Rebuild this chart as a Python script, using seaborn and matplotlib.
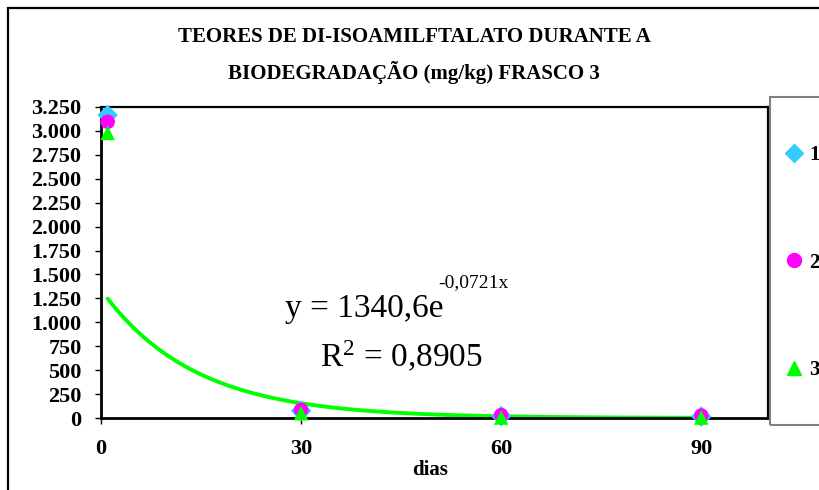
import matplotlib
matplotlib.use("Agg")
import matplotlib.pyplot as plt
from matplotlib.lines import Line2D
from matplotlib.patches import Rectangle
import numpy as np
import pandas as pd
import seaborn as sns

# data
dias = [1, 30, 60, 90]
frasco_1 = [3165, 75, 20, 15]
frasco_2 = [3095, 85, 30, 25]
frasco_3 = [2980, 50, 5, 5]
frascos = ["1", "2", "3"]

# exponential trendline shown on the chart
trend_a = 1340.6
trend_b = -0.0721
trend_r2 = 0.8905

yticks = list(range(0, 3251, 250))
xticks = [0, 30, 60, 90]

colors = {"1": "#33CCFF", "2": "#FF00FF", "3": "#00FF00"}
markers = {"1": "D", "2": "o", "3": "^"}

df = pd.DataFrame({
    "dias": dias * 3,
    "teor": frasco_1 + frasco_2 + frasco_3,
    "frasco": [f for f in frascos for _ in dias],
})

sns.set_style("white")
plt.rcParams["font.family"] = ["Liberation Serif", "DejaVu Serif"]
plt.rcParams["mathtext.default"] = "regular"
for k in ["text.color", "axes.labelcolor", "xtick.color", "ytick.color"]:
    plt.rcParams[k] = "black"

W, H = 820, 490
fig = plt.figure(figsize=(W / 100, H / 100), dpi=100)


def fx(px):
    return px / W


def fy(py):
    return 1 - py / H


ax = fig.add_axes([fx(101), fy(418), fx(768) - fx(101), fy(107) - fy(418)])

# trendline
xt = np.linspace(1, 90, 200)
ax.plot(xt, trend_a * np.exp(trend_b * xt), color="#00FF00", lw=2.8, zorder=2)

sns.scatterplot(data=df, x="dias", y="teor", hue="frasco", style="frasco",
                palette=colors, markers=markers, s=110, linewidth=0,
                legend=False, ax=ax, zorder=3, clip_on=False)

ax.set_xlim(0, 100)
ax.set_ylim(0, 3250)
ax.set_xticks(xticks)
ax.set_yticks(yticks)
ax.set_yticklabels([f"{v:,}".replace(",", ".") for v in yticks])
for lab in ax.get_xticklabels() + ax.get_yticklabels():
    lab.set_fontweight("bold")
    lab.set_fontsize(16)
ax.tick_params(axis="y", direction="out", length=4, width=1, pad=10, left=True)
ax.tick_params(axis="x", direction="out", length=4, width=1, pad=11, bottom=True)
for s in ax.spines.values():
    s.set_color("black")
    s.set_linewidth(1.6)
ax.spines["left"].set_linewidth(2)
ax.spines["bottom"].set_linewidth(2)

ax.set_xlabel("dias", fontsize=15, fontweight="bold")
ax.xaxis.set_label_coords((430 - 101) / 667, -(460 - 418) / 311)
ax.set_ylabel("")

# title
fig.text(fx(414), fy(37), "TEORES DE DI-ISOAMILFTALATO DURANTE A",
         ha="center", va="center", fontsize=15, fontweight="bold")
fig.text(fx(414), fy(73), "BIODEGRADAÇÃO (mg/kg) FRASCO 3",
         ha="center", va="center", fontsize=15, fontweight="bold")

# equation
fig.text(fx(285), fy(317), "y = 1340,6e", ha="left", va="baseline", fontsize=24)
fig.text(fx(438), fy(287), f"{trend_b}x".replace(".", ","), ha="left",
         va="baseline", fontsize=14)
fig.text(fx(320), fy(367), r"R$^{2}$ = " + f"{trend_r2}".replace(".", ","),
         ha="left", va="baseline", fontsize=24)

# outer chart frame
fig.add_artist(Rectangle((fx(8), -0.1), 1.2, fy(8) + 0.1, transform=fig.transFigure,
                         fill=False, edgecolor="black", lw=1.6))

# legend box
fig.add_artist(Rectangle((fx(770), fy(425)), 0.2, fy(97) - fy(425),
                         transform=fig.transFigure, fill=False,
                         edgecolor="#808080", lw=1.5))
handles = [Line2D([], [], ls="none", marker=markers[f], color=colors[f],
                  markersize=10 if f != "1" else 9) for f in frascos]
fig.legend(handles, frascos, loc="upper left",
           bbox_to_anchor=(fx(782), fy(145)), frameon=False,
           prop={"weight": "bold", "size": 15}, labelspacing=4.2,
           handletextpad=0.1, borderpad=0, borderaxespad=0, handlelength=1.2)

fig.savefig("out.png", dpi=100, facecolor="white")
